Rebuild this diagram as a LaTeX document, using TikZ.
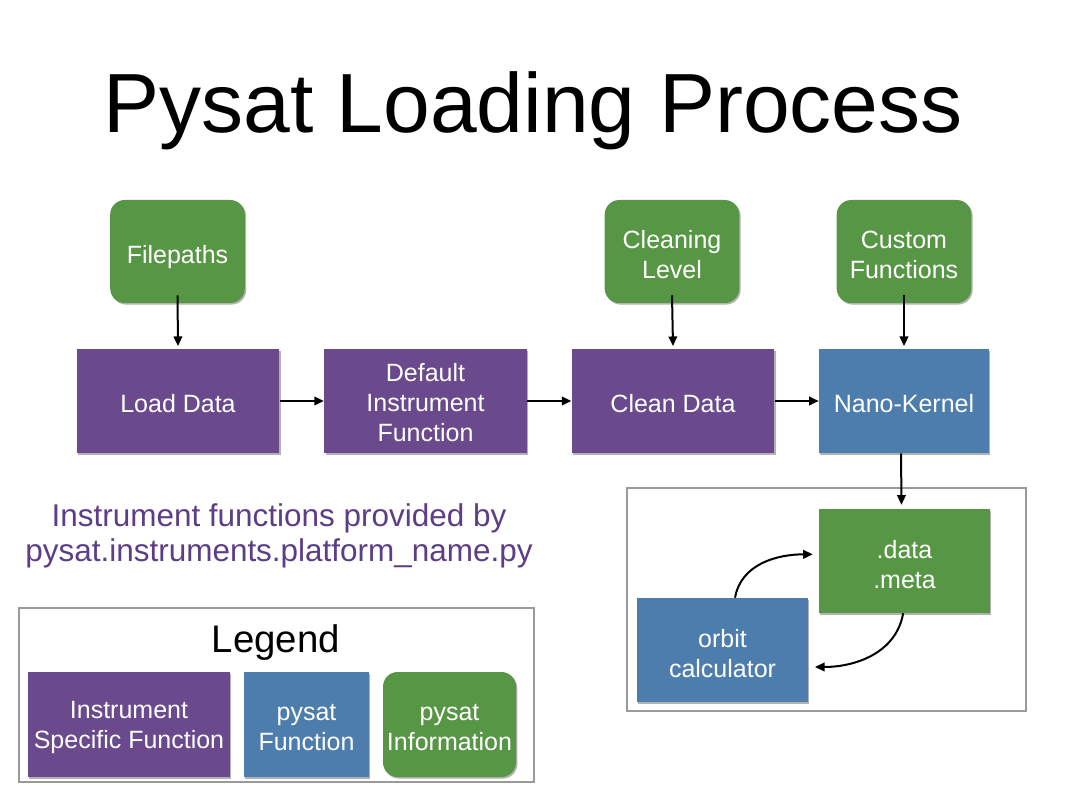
\documentclass[tikz,border=0pt]{standalone}
\usepackage{fontspec}
\setmainfont{Liberation Sans}
\usetikzlibrary{arrows.meta,shadows}
\definecolor{ipurple}{HTML}{6A4A8C}
\definecolor{pblue}{HTML}{4D7DAD}
\definecolor{pgreen}{HTML}{579645}
\definecolor{tpurple}{HTML}{5C3E86}
\definecolor{framegray}{HTML}{9A9A9A}
\begin{document}
\begin{tikzpicture}[x=0.75pt,y=0.75pt,
  base/.style={inner sep=0pt,
    drop shadow={shadow xshift=1pt, shadow yshift=-1.2pt, opacity=0.3, fill=black}},
  lbl/.style={text=white, align=center, inner sep=0pt, yshift=-2.3pt,
    font=\fontsize{18.75}{22.5}\selectfont},
  one/.style={text height=13.4pt, text depth=0pt},
  fnbox/.style={base, fill=ipurple, minimum width=152pt, minimum height=78pt},
  pybox/.style={base, fill=pblue, minimum width=127.5pt, minimum height=78pt},
  infobox/.style={base, fill=pgreen, rounded corners=11pt, minimum width=101pt, minimum height=77.25pt},
  arr/.style={-{Triangle[length=7.2pt,width=6.4pt]}, line width=1.5pt, black},
  frame/.style={draw=framegray, line width=1.5pt}
]
\useasboundingbox (0,0) rectangle (1066,800);
\fill[white] (0,0) rectangle (1066,800);

% title
\node[anchor=base, inner sep=0pt, font=\fontsize{63}{70}\selectfont] (title) at (533,667) {Pysat Loading Process};

% top info
\node[infobox] (fp) at (177.5,548.5) {};
\node[lbl, one] (fpt) at (fp.center) {Filepaths};
\node[infobox] (cl) at (672,548.5) {};
\node[lbl] (clt) at (cl.center) {Cleaning\\Level};
\node[infobox] (cf) at (904,548.5) {};
\node[lbl] (cft) at (cf.center) {Custom\\Functions};

% main row
\node[fnbox] (ld) at (178,399) {};
\node[lbl, one] (ldt) at (ld.center) {Load Data};
\node[fnbox] (dif) at (425.5,399) {};
\node[lbl] (dift) at ([yshift=1pt]dif.center) {Default\\Instrument\\Function};
\node[fnbox] (cd) at (673,399) {};
\node[lbl, one] (cdt) at (cd.center) {Clean Data};
\node[pybox] (nk) at (904,399) {};
\node[lbl, one] (nkt) at (nk.center) {Nano-Kernel};

\draw[arr] ([yshift=6pt]fp.south) -- ([yshift=2pt]ld.north);
\draw[arr] ([yshift=6pt]cl.south) -- ([yshift=2pt]cd.north);
\draw[arr] ([yshift=6pt]cf.south) -- ([yshift=2pt]nk.north);
\draw[arr] (ld.east) -- (dif.west);
\draw[arr] (dif.east) -- (cd.west);
\draw[arr] (cd.east) -- (nk.west);

% instrument frame
\draw[frame] (627,89) rectangle (1026,312);
\node[base, fill=pgreen, minimum width=128.25pt, minimum height=78pt] (dm) at (904.5,239) {};
\node[lbl] (dmt) at (dm.center) {.data\\.meta};
\node[base, fill=pblue, minimum width=128.25pt, minimum height=78pt] (oc) at (722.5,150) {};
\node[lbl] (oct) at (oc.center) {orbit\\calculator};
\draw[arr] ([xshift=-2.25pt]nk.south) -- ([xshift=-2.25pt,yshift=3pt]dm.north);
\draw[arr] ([xshift=9.4pt]oc.north) to[out=80,in=180] ([xshift=-4.5pt,yshift=5pt]dm.west);
\draw[arr] ([xshift=-1pt]dm.south) to[out=-100,in=0] ([xshift=5pt,yshift=-12.75pt]oc.east);

% note text
\node[text=tpurple, align=center, inner sep=0pt, font=\fontsize{23.6}{26.25}\selectfont] (note) at (279,264.3) {Instrument functions provided by\\pysat.instruments.platform\_name.py};

% legend
\draw[frame] (19,18) rectangle (534,192);
\node[inner sep=0pt, font=\fontsize{28.8}{32}\selectfont] (lg) at (276,157) {Legend};
\node[base, fill=ipurple, minimum width=151.5pt, minimum height=78.75pt] (l1) at (129,75.5) {};
\node[lbl] (l1t) at (l1.center) {Instrument\\Specific Function};
\node[base, fill=pblue, minimum width=93.75pt, minimum height=78.75pt] (l2) at (306.5,75.5) {};
\node[lbl] (l2t) at (l2.center) {pysat\\Function};
\node[base, fill=pgreen, rounded corners=11pt, minimum width=99.75pt, minimum height=78.75pt] (l3) at (449.5,75.5) {};
\node[lbl] (l3t) at (l3.center) {pysat\\Information};
\end{tikzpicture}
\end{document}
